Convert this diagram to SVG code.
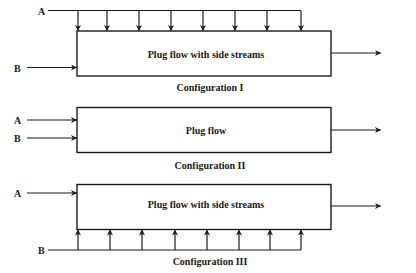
<svg xmlns="http://www.w3.org/2000/svg" width="416" height="273" viewBox="0 0 416 273">
<defs>
<marker id="ah" viewBox="0 0 10 10" refX="10" refY="5" markerWidth="6" markerHeight="6" markerUnits="userSpaceOnUse" orient="auto">
<path d="M0,0 L10,5 L0,10 L3,5 z" fill="#1a1a1a"/>
</marker>
<style>
.box{fill:#fff;stroke:#1a1a1a;stroke-width:1.4}
.ln{fill:none;stroke:#1a1a1a;stroke-width:1.2}
.ar{fill:none;stroke:#1a1a1a;stroke-width:1.2;marker-end:url(#ah)}
text{font-family:"Liberation Serif","Times New Roman",serif;font-weight:bold;font-size:10px;fill:#1a1a1a}
.c{text-anchor:middle}
</style>
</defs>
<rect width="416" height="273" fill="#fff"/>
<g id="config1">
<rect class="box" x="77" y="31" width="254" height="45"/>
<text class="c" x="206" y="57.5">Plug flow with side streams</text>
<text class="c" x="210" y="91">Configuration I</text>
<text x="38" y="15">A</text>
<text x="14" y="71.5">B</text>
</g>
<g id="config2">
<rect class="box" x="77" y="107.5" width="254" height="45"/>
<text class="c" x="206" y="133.5">Plug flow</text>
<text class="c" x="210" y="169">Configuration II</text>
<text x="14" y="124">A</text>
<text x="14" y="142">B</text>
</g>
<g id="config3">
<rect class="box" x="77" y="184.5" width="254" height="45"/>
<text class="c" x="206" y="207.5">Plug flow with side streams</text>
<text class="c" x="210" y="265">Configuration III</text>
<text x="14" y="197">A</text>
<text x="38" y="253.5">B</text>
</g>
<g id="connectors">
<path class="ln" d="M48,10.5 H301"/>
<path class="ar" d="M78,10.5 V31"/>
<path class="ar" d="M107,10.5 V31"/>
<path class="ar" d="M139,10.5 V31"/>
<path class="ar" d="M171,10.5 V31"/>
<path class="ar" d="M203,10.5 V31"/>
<path class="ar" d="M235,10.5 V31"/>
<path class="ar" d="M267,10.5 V31"/>
<path class="ar" d="M301,10.5 V31"/>
<path class="ar" d="M27,67.5 H77"/>
<path class="ar" d="M331,53 H381"/>
<path class="ar" d="M27,120 H77"/>
<path class="ar" d="M27,138 H77"/>
<path class="ar" d="M331,130 H381"/>
<path class="ar" d="M27,193 H77"/>
<path class="ar" d="M331,206 H381"/>
<path class="ln" d="M48,250 H301"/>
<path class="ar" d="M78,250 V229.5"/>
<path class="ar" d="M110,250 V229.5"/>
<path class="ar" d="M142,250 V229.5"/>
<path class="ar" d="M175,250 V229.5"/>
<path class="ar" d="M207,250 V229.5"/>
<path class="ar" d="M239,250 V229.5"/>
<path class="ar" d="M270,250 V229.5"/>
<path class="ar" d="M301,250 V229.5"/>
</g>
</svg>
